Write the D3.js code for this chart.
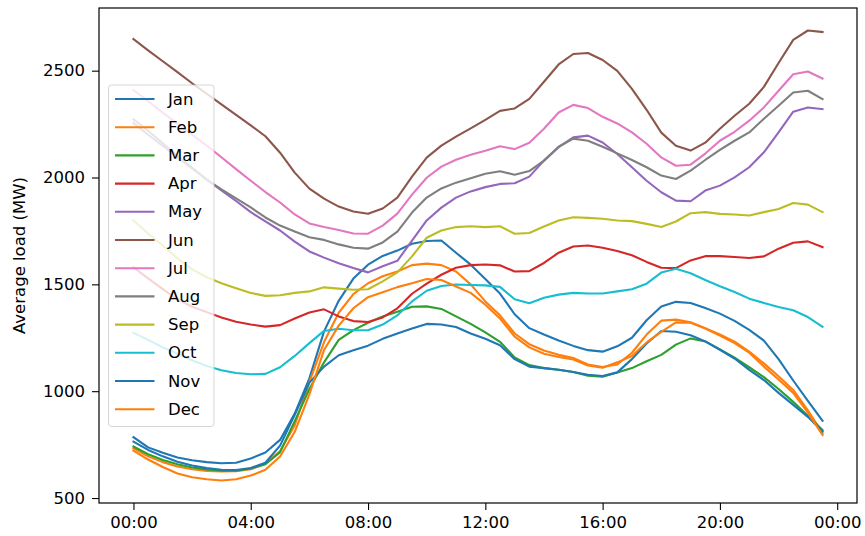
<!DOCTYPE html>
<html>
<head>
<meta charset="utf-8">
<script src="https://cdn.jsdelivr.net/npm/d3@7"></script>
<style>
  html, body { margin: 0; padding: 0; background: #fff; }
  svg { display: block; font-family: "DejaVu Sans", sans-serif; }
</style>
</head>
<body>
<svg id="chart" width="865" height="536"></svg>
<script>
// Average half-hourly load per month (MW), 48 slots from 00:00 to 23:30
const months = ["Jan", "Feb", "Mar", "Apr", "May", "Jun", "Jul", "Aug", "Sep", "Oct", "Nov", "Dec"];
const slotHours = d3.range(48).map(i => i / 2);

const jan = [785,737,712,690,677,668,663,665,685,713,772,895,1060,1280,1423,1527,1592,1633,1658,1690,1703,1705,1648,1592,1525,1457,1360,1295,1265,1237,1212,1192,1185,1210,1250,1332,1396,1418,1413,1389,1363,1329,1287,1237,1150,1050,955,862];
const feb = [733,695,668,648,635,627,624,625,635,660,720,840,1043,1230,1367,1454,1505,1538,1560,1590,1597,1590,1560,1500,1420,1355,1270,1220,1190,1170,1155,1125,1113,1125,1180,1265,1330,1335,1323,1295,1265,1232,1185,1130,1070,1006,910,803];
const mar = [741,705,678,658,643,634,628,628,638,658,715,860,1010,1135,1240,1286,1320,1350,1372,1395,1397,1385,1350,1315,1275,1231,1158,1122,1108,1100,1090,1072,1068,1087,1108,1140,1170,1218,1247,1233,1196,1157,1112,1066,1010,950,885,818];
const apr = [1580,1528,1478,1430,1395,1370,1345,1325,1312,1302,1309,1340,1368,1383,1350,1328,1324,1345,1388,1456,1503,1545,1578,1590,1593,1589,1560,1562,1600,1648,1677,1682,1671,1656,1636,1605,1578,1576,1612,1632,1632,1628,1623,1631,1667,1695,1701,1674];
const may = [2255,2200,2148,2095,2042,1990,1940,1890,1838,1795,1752,1700,1654,1625,1599,1576,1556,1585,1610,1705,1799,1859,1906,1935,1955,1970,1973,2004,2079,2142,2188,2196,2164,2110,2048,1985,1931,1892,1889,1939,1962,2001,2048,2118,2211,2308,2328,2320];
const jun = [2648,2595,2544,2493,2441,2392,2342,2293,2244,2193,2116,2023,1948,1901,1864,1841,1830,1855,1906,2004,2093,2149,2191,2230,2270,2312,2323,2368,2448,2529,2578,2583,2550,2499,2415,2317,2210,2149,2126,2163,2228,2289,2345,2424,2536,2644,2688,2681];
const jul = [2409,2357,2304,2252,2200,2149,2095,2039,1985,1932,1883,1827,1785,1768,1754,1738,1737,1775,1831,1920,1999,2051,2083,2107,2125,2146,2133,2163,2228,2304,2340,2325,2284,2253,2211,2158,2094,2055,2060,2112,2172,2214,2266,2328,2406,2483,2496,2463];
const aug = [2272,2219,2160,2102,2047,1990,1944,1902,1860,1813,1775,1747,1720,1708,1687,1671,1667,1696,1747,1836,1906,1949,1976,1997,2018,2029,2013,2030,2079,2144,2182,2172,2144,2113,2082,2048,2009,1993,2032,2082,2129,2172,2211,2275,2336,2398,2406,2367];
const sep = [1799,1738,1682,1621,1570,1533,1505,1482,1460,1446,1449,1460,1467,1486,1480,1475,1477,1514,1556,1631,1718,1752,1768,1772,1768,1772,1737,1740,1771,1799,1814,1811,1807,1799,1796,1783,1768,1794,1833,1838,1830,1827,1822,1838,1853,1881,1873,1838];
const oct = [1273,1240,1205,1175,1145,1118,1098,1085,1079,1081,1112,1165,1225,1282,1292,1285,1285,1312,1355,1420,1470,1492,1499,1497,1495,1488,1430,1412,1437,1452,1460,1457,1457,1467,1477,1503,1555,1573,1552,1520,1491,1464,1433,1413,1394,1379,1347,1301];
const nov = [764,725,695,670,652,640,632,631,640,665,745,890,1040,1115,1168,1192,1213,1245,1270,1293,1315,1312,1300,1270,1245,1215,1150,1115,1108,1100,1090,1077,1071,1088,1150,1223,1282,1278,1262,1233,1194,1153,1100,1052,992,936,880,811];
const dec = [722,680,645,615,597,588,582,588,605,632,694,810,985,1193,1307,1388,1440,1463,1487,1505,1525,1520,1490,1460,1405,1340,1255,1205,1175,1160,1148,1120,1110,1135,1165,1228,1278,1322,1320,1293,1260,1225,1180,1115,1055,992,900,795];

const xTickHours = [0, 4, 8, 12, 16, 20, 24];
const yTickValues = [500, 1000, 1500, 2000, 2500];

const seriesValues = [jan, feb, mar, apr, may, jun, jul, aug, sep, oct, nov, dec];
const palette = ["#1f77b4", "#ff7f0e", "#2ca02c", "#d62728", "#9467bd",
                 "#8c564b", "#e377c2", "#7f7f7f", "#bcbd22", "#17becf"];

const svg = d3.select("#chart");
const plot = { left: 99, top: 8, right: 857, bottom: 503 };
const fontSize = 16.5;

// 5% padding around the data on both axes
const xPad = (slotHours[slotHours.length - 1] - slotHours[0]) * 0.05;
const x = d3.scaleLinear()
  .domain([slotHours[0] - xPad, slotHours[slotHours.length - 1] + xPad])
  .range([plot.left, plot.right]);

const allValues = seriesValues.flat();
const yMin = d3.min(allValues), yMax = d3.max(allValues);
const yPad = (yMax - yMin) * 0.05;
const y = d3.scaleLinear()
  .domain([yMin - yPad, yMax + yPad])
  .range([plot.bottom, plot.top]);

// Lines
const line = d3.line()
  .x((d, i) => x(slotHours[i]))
  .y(d => y(d));

svg.append("g")
  .selectAll("path")
  .data(seriesValues)
  .join("path")
  .attr("d", d => line(d))
  .attr("fill", "none")
  .attr("stroke", (d, i) => palette[i % palette.length])
  .attr("stroke-width", 2.1)
  .attr("stroke-linejoin", "round")
  .attr("stroke-linecap", "square");

// Axes
const fmtHour = h => String(h % 24).padStart(2, "0") + ":00";

const xAxis = svg.append("g")
  .attr("transform", `translate(0,${plot.bottom})`)
  .call(d3.axisBottom(x).tickValues(xTickHours).tickFormat(fmtHour)
    .tickSizeInner(7).tickSizeOuter(0).tickPadding(6));

const yAxis = svg.append("g")
  .attr("transform", `translate(${plot.left},0)`)
  .call(d3.axisLeft(y).tickValues(yTickValues).tickFormat(d3.format("d"))
    .tickSizeInner(7).tickSizeOuter(0).tickPadding(7));

[xAxis, yAxis].forEach(g => {
  g.select(".domain").remove();
  g.selectAll(".tick line").attr("stroke", "#000").attr("stroke-width", 1.1);
  g.selectAll(".tick text")
    .attr("fill", "#000")
    .style("font-family", '"DejaVu Sans", sans-serif')
    .style("font-size", fontSize + "px");
});

// Frame
svg.append("rect")
  .attr("x", plot.left).attr("y", plot.top)
  .attr("width", plot.right - plot.left).attr("height", plot.bottom - plot.top)
  .attr("fill", "none").attr("stroke", "#000").attr("stroke-width", 1.2);

// Y axis title
svg.append("text")
  .attr("transform", `translate(19,${(plot.top + plot.bottom) / 2}) rotate(-90)`)
  .attr("text-anchor", "middle")
  .attr("dominant-baseline", "central")
  .style("font-size", fontSize + "px")
  .text("Average load (MW)");

// Legend
const legend = svg.append("g");
legend.append("rect")
  .attr("x", 108.5).attr("y", 85)
  .attr("width", 105.5).attr("height", 341.5)
  .attr("rx", 3)
  .attr("fill", "#fff").attr("fill-opacity", 0.8)
  .attr("stroke", "#cccccc").attr("stroke-opacity", 0.8);

const rowY = k => 99 + k * 28.2;
const rows = legend.selectAll("g.row")
  .data(months)
  .join("g")
  .attr("class", "row")
  .attr("transform", (d, k) => `translate(0,${rowY(k)})`);

rows.append("line")
  .attr("x1", 115).attr("x2", 154.5)
  .attr("y1", 0).attr("y2", 0)
  .attr("stroke", (d, k) => palette[k % palette.length])
  .attr("stroke-width", 2.1);

rows.append("text")
  .attr("x", 168)
  .attr("y", 0)
  .attr("dominant-baseline", "central")
  .style("font-size", fontSize + "px")
  .text(d => d);
</script>
</body>
</html>
